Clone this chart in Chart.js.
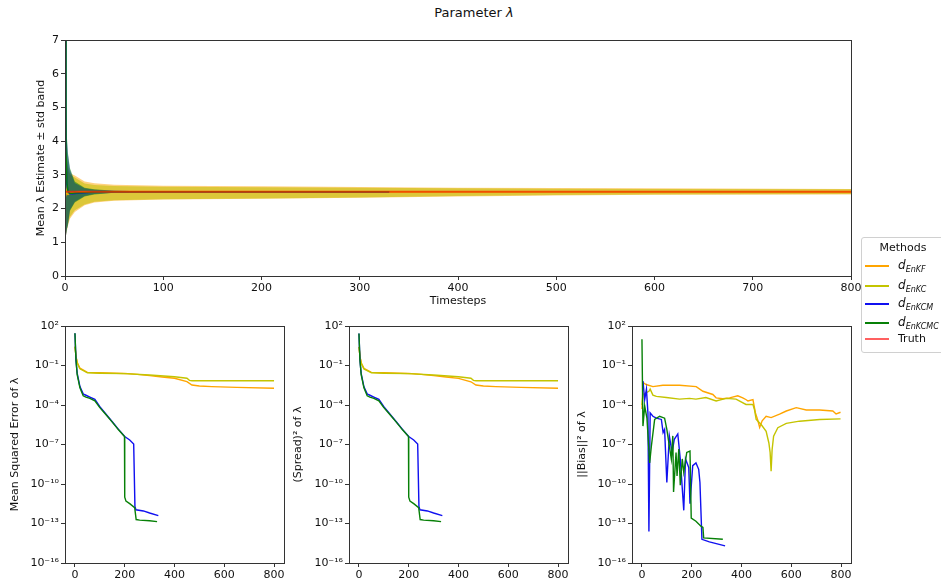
<!DOCTYPE html>
<html>
<head>
<meta charset="utf-8">
<script src="https://cdn.jsdelivr.net/npm/chart.js@4.4.1/dist/chart.umd.min.js"></script>
<style>
  body { margin: 0; width: 941px; height: 583px; background: #fff; position: relative; overflow: hidden;
         font-family: "DejaVu Sans", sans-serif; color: #111; }
  canvas { position: absolute; }
  #title { position: absolute; top: 5px; left: 0; width: 948px; text-align: center; font-size: 13px; }
  #legend { position: absolute; left: 861px; top: 237px; width: 82px; height: 114px;
            border: 1px solid #d0d0d0; border-radius: 3px; background: rgba(255,255,255,0.8); font-size: 11px; }
  #legend .head { position: absolute; top: 2px; left: 0; width: 100%; text-align: center; line-height: 16px; }
  #legend .row { position: absolute; left: 3px; height: 18px; line-height: 18px; white-space: nowrap; }
  #legend .swatch { display: inline-block; width: 24px; height: 1.5px; vertical-align: middle; margin-right: 9px; }
  #legend i.d { font-size: 12px; }
  #legend sub { font-size: 8px; }
</style>
</head>
<body>
<div id="title">Parameter <i>λ</i></div>
<canvas id="estimate" width="870" height="290" style="left:0;top:30px"></canvas>
<canvas id="mse" width="290" height="267" style="left:0;top:316px"></canvas>
<canvas id="spread" width="285" height="267" style="left:290px;top:316px"></canvas>
<canvas id="bias" width="285" height="267" style="left:575px;top:316px"></canvas>
<div id="legend"><div class="head">Methods</div></div>
<script>
// ---- data ----
const methods = ["EnKF", "EnKC", "EnKCM", "EnKCMC"];
const truthLambda = 2.5;
const truthSteps = [0, 800];

// mean estimate and +/- std band, EnKF / EnKC run the full 800 steps
const bandSteps = [0, 1, 2, 3, 5, 10, 20, 30, 50, 100, 200, 300, 400, 500, 600, 800];
const enkfMean  = [2.6, 2.5, 2.45, 2.42, 2.44, 2.47, 2.49, 2.5, 2.5, 2.5, 2.5, 2.5, 2.5, 2.5, 2.5, 2.5];
const enkfUpper = [4.6, 3.9, 3.5, 3.25, 3.05, 2.98, 2.8, 2.75, 2.71, 2.68, 2.66, 2.64, 2.62, 2.61, 2.6, 2.58];
const enkfLower = [1.05, 1.2, 1.35, 1.5, 1.7, 1.9, 2.1, 2.18, 2.23, 2.27, 2.29, 2.32, 2.36, 2.39, 2.41, 2.42];
const enkcMean  = [2.7, 2.55, 2.47, 2.44, 2.45, 2.47, 2.49, 2.5, 2.5, 2.5, 2.5, 2.5, 2.5, 2.5, 2.5, 2.5];
const enkcUpper = [4.4, 3.7, 3.4, 3.15, 3.0, 2.92, 2.74, 2.7, 2.67, 2.65, 2.63, 2.62, 2.6, 2.59, 2.58, 2.57];
const enkcLower = [1.15, 1.25, 1.4, 1.55, 1.75, 1.95, 2.12, 2.2, 2.25, 2.28, 2.3, 2.33, 2.37, 2.4, 2.42, 2.43];

// EnKCM / EnKCMC stop early
const convSteps  = [0, 1, 2, 3, 5, 10, 20, 30, 50, 100, 200, 330];
const enkcmMean  = [7.2, 3.6, 2.7, 2.5, 2.43, 2.45, 2.47, 2.49, 2.5, 2.5, 2.5, 2.5];
const enkcmUpper = [10.0, 5.0, 4.0, 3.6, 3.15, 2.76, 2.6, 2.56, 2.53, 2.51, 2.505, 2.502];
const enkcmLower = [1.0, 1.2, 1.4, 1.55, 1.96, 2.2, 2.37, 2.43, 2.47, 2.49, 2.495, 2.498];
const enkcmcMean  = [7.5, 3.7, 2.75, 2.52, 2.45, 2.46, 2.48, 2.49, 2.5, 2.5, 2.5, 2.5];
const enkcmcUpper = [10.0, 5.1, 4.1, 3.65, 3.2, 2.8, 2.62, 2.57, 2.53, 2.51, 2.505, 2.502];
const enkcmcLower = [1.0, 1.2, 1.4, 1.5, 1.93, 2.18, 2.36, 2.42, 2.47, 2.49, 2.495, 2.498];

// mean squared error
const mseStepsEnKF = [0, 5, 10, 20, 50, 100, 200, 250, 300, 350, 400, 450, 470, 500, 550, 650, 800];
const mseEnKF = [2.7, 4e-1, 1.5e-1, 6.2e-2, 3e-2, 2.8e-2, 2.5e-2, 2.1e-2, 1.7e-2, 1.35e-2, 1.07e-2, 5.9e-3, 3.3e-3, 2.75e-3, 2.5e-3, 2.2e-3, 1.86e-3];
const mseStepsEnKC = [0, 5, 10, 20, 50, 100, 200, 300, 400, 450, 460, 470, 800];
const mseEnKC = [2.7, 4e-1, 1.5e-1, 5.6e-2, 2.8e-2, 2.6e-2, 2.4e-2, 1.9e-2, 1.4e-2, 1.07e-2, 7.4e-3, 7e-3, 7e-3];
const mseStepsEnKCM = [0, 4, 9, 20, 33, 40, 60, 80, 100, 125, 150, 175, 200, 220, 236, 241, 245, 275, 300, 335];
const mseEnKCM = [2.8e1, 2.6e-1, 2.5e-2, 2.5e-3, 7e-4, 6e-4, 4e-4, 2.7e-4, 7.4e-5, 2e-5, 5.4e-6, 1.4e-6, 4e-7, 2.2e-7, 1.1e-7, 2e-12, 1.1e-12, 9e-13, 6.3e-13, 4e-13];
const mseStepsEnKCMC = [0, 4, 9, 20, 33, 44, 60, 80, 100, 125, 150, 175, 199, 200, 205, 220, 240, 246, 260, 300, 330];
const mseEnKCMC = [2.8e1, 2.6e-1, 2e-2, 2e-3, 5e-4, 4e-4, 3.2e-4, 2.1e-4, 6.3e-5, 1.8e-5, 5e-6, 1.3e-6, 4e-7, 1e-11, 5e-12, 3.2e-12, 1.6e-12, 2e-13, 1.8e-13, 1.6e-13, 1.4e-13];

// squared spread
const spreadStepsEnKF = [0, 5, 10, 20, 50, 100, 200, 250, 300, 350, 400, 450, 470, 500, 550, 650, 800];
const spreadEnKF = [2.6, 3.8e-1, 1.4e-1, 6e-2, 3e-2, 2.8e-2, 2.5e-2, 2.1e-2, 1.7e-2, 1.35e-2, 1.05e-2, 5.8e-3, 3.3e-3, 2.75e-3, 2.5e-3, 2.2e-3, 1.85e-3];
const spreadStepsEnKC = [0, 5, 10, 20, 50, 100, 200, 300, 400, 450, 460, 470, 800];
const spreadEnKC = [2.6, 3.8e-1, 1.4e-1, 5.5e-2, 2.8e-2, 2.6e-2, 2.4e-2, 1.9e-2, 1.4e-2, 1.07e-2, 7.4e-3, 7e-3, 7e-3];
const spreadStepsEnKCM = [0, 4, 9, 20, 33, 40, 60, 80, 100, 125, 150, 175, 200, 220, 236, 241, 245, 275, 300, 335];
const spreadEnKCM = [2.7e1, 2.5e-1, 2.4e-2, 2.4e-3, 7e-4, 6e-4, 4e-4, 2.7e-4, 7.4e-5, 2e-5, 5.4e-6, 1.4e-6, 4e-7, 2.2e-7, 1.1e-7, 2e-12, 1.1e-12, 9e-13, 6.3e-13, 4e-13];
const spreadStepsEnKCMC = [0, 4, 9, 20, 33, 44, 60, 80, 100, 125, 150, 175, 199, 200, 205, 220, 240, 246, 260, 300, 330];
const spreadEnKCMC = [2.7e1, 2.5e-1, 2e-2, 2e-3, 5e-4, 4e-4, 3.2e-4, 2.1e-4, 6.3e-5, 1.8e-5, 5e-6, 1.3e-6, 4e-7, 1e-11, 5e-12, 3.2e-12, 1.6e-12, 2e-13, 1.8e-13, 1.6e-13, 1.4e-13];

// squared bias
const biasStepsEnKF = [0, 5, 17, 44, 84, 151, 218, 245, 285, 298, 325, 352, 385, 405, 419, 426, 446, 456, 466, 473, 483, 499, 519, 553, 580, 620, 660, 714, 767, 780, 798];
const biasEnKF = [5e-5, 5e-3, 3.6e-3, 2.5e-3, 3.2e-3, 3.2e-3, 2.5e-3, 1.1e-3, 6.3e-4, 3.5e-4, 3e-4, 3.5e-4, 5e-4, 3.5e-4, 2.5e-4, 2e-4, 2.6e-4, 2.5e-5, 6.3e-6, 2e-6, 6.3e-6, 1.4e-5, 1.1e-5, 2e-5, 3.5e-5, 6.3e-5, 4.2e-5, 4.2e-5, 3.5e-5, 2.1e-5, 2.8e-5];
const biasStepsEnKC = [0, 4, 28, 33, 44, 58, 98, 151, 191, 217, 257, 298, 338, 378, 418, 446, 452, 459, 479, 499, 510, 515, 519, 523, 529, 546, 580, 633, 714, 798];
const biasEnKC = [1e-4, 6.3e-4, 1.1e-3, 1.6e-3, 5.6e-4, 4.5e-4, 3.7e-4, 2.8e-4, 3.2e-4, 2.8e-4, 3.7e-4, 2e-4, 3.2e-4, 2.8e-4, 1.1e-4, 1.1e-4, 4.6e-5, 7.9e-6, 3.3e-6, 1e-6, 1.3e-7, 2.5e-8, 9.3e-10, 4e-8, 4.3e-7, 1.9e-6, 4e-6, 5.9e-6, 7.9e-6, 8.9e-6];
const biasStepsEnKCM = [4, 11, 18, 24, 28, 33, 44, 58, 78, 85, 91, 100, 110, 121, 130, 144, 154, 168, 175, 188, 193, 204, 217, 228, 233, 241, 271, 334];
const biasEnKCM = [6.6e-3, 2.6e-4, 1.6e-3, 2.5e-5, 2.5e-14, 2.5e-5, 1.4e-5, 1e-5, 8e-6, 8e-7, 1.4e-6, 1.3e-10, 4.5e-7, 2.5e-8, 2.5e-7, 6.3e-7, 8e-9, 1e-12, 8e-9, 1.8e-9, 3.2e-12, 2.5e-9, 4e-9, 1.3e-9, 1.3e-10, 6.3e-15, 4e-15, 2e-15];
const biasStepsEnKCMC = [0, 4, 11, 20, 31, 38, 51, 71, 91, 100, 110, 118, 124, 127, 137, 141, 148, 154, 162, 168, 180, 193, 198, 217, 237, 245, 248, 325];
const biasEnKCMC = [1e1, 2.5e-6, 8.3e-5, 1e-5, 4e-9, 8e-8, 8e-6, 1.4e-5, 1e-5, 1.4e-6, 8e-8, 8e-9, 4.5e-7, 2.5e-11, 2.5e-8, 4e-10, 4.5e-8, 8e-11, 8e-9, 8e-10, 2.5e-8, 3.2e-8, 2.6e-13, 1.5e-13, 6.3e-14, 5e-14, 8e-15, 6.3e-15];

const stepTicks = [0, 100, 200, 300, 400, 500, 600, 700, 800];
const panelStepTicks = [0, 200, 400, 600, 800];
const logTicks = [1e2, 1e-1, 1e-4, 1e-7, 1e-10, 1e-13, 1e-16];

// ---- styles ----
const lineColor = { EnKF: "#ffa500", EnKC: "#c4c400", EnKCM: "#1010f0", EnKCMC: "#078007", Truth: "#ff6060" };
const bandColor = { EnKF: "rgba(255,165,0,0.5)", EnKC: "rgba(191,191,0,0.55)", EnKCM: "rgba(0,0,255,0.5)", EnKCMC: "rgba(0,128,0,0.5)" };
const axisInk = "#333";
const font = { family: "'DejaVu Sans', sans-serif", size: 11 };

const pts = (xs, ys) => xs.map((x, i) => ({ x, y: ys[i] }));
const sup = s => String(s).replace(/[-0-9]/g, c => "⁻⁰¹²³⁴⁵⁶⁷⁸⁹"["-0123456789".indexOf(c)]);
const powLabel = v => "10" + sup(Math.round(Math.log10(v)));

// matplotlib-like box around each plot area
const frame = {
  id: "frame",
  afterDraw(chart) {
    const { ctx, chartArea: a } = chart;
    ctx.save();
    ctx.strokeStyle = axisInk;
    ctx.lineWidth = 1;
    ctx.strokeRect(Math.round(a.left) + 0.5, Math.round(a.top) + 0.5,
      Math.round(a.right - a.left), Math.round(a.bottom - a.top));
    ctx.restore();
  }
};

function line(label, xs, ys, color, width) {
  return { label, data: pts(xs, ys), borderColor: color, borderWidth: width, pointRadius: 0, fill: false, tension: 0 };
}
function band(xs, upper, lower, color) {
  return [
    { data: pts(xs, upper), borderWidth: 0, pointRadius: 0, backgroundColor: color, fill: "+1" },
    { data: pts(xs, lower), borderWidth: 0, pointRadius: 0, fill: false }
  ];
}

function axisX(min, max, ticks, extra) {
  return Object.assign({
    type: "linear", min, max,
    afterBuildTicks: s => { s.ticks = ticks.map(value => ({ value })); },
    grid: { drawOnChartArea: false, drawTicks: true, tickLength: 4, color: axisInk },
    border: { display: false },
    ticks: { font, color: "#111", padding: 2, maxRotation: 0 }
  }, extra);
}

Chart.defaults.font.family = font.family;

// top: mean estimate with std bands
new Chart(document.getElementById("estimate"), {
  type: "line",
  data: {
    datasets: [
      line("Truth", truthSteps, [truthLambda, truthLambda], "rgba(255,40,0,0.75)", 2),
      line("EnKCMC", convSteps, enkcmcMean, lineColor.EnKCMC, 1.5),
      line("EnKCM", convSteps, enkcmMean, lineColor.EnKCM, 1.5),
      line("EnKC", bandSteps, enkcMean, lineColor.EnKC, 1.5),
      line("EnKF", bandSteps, enkfMean, lineColor.EnKF, 1.5),
      ...band(convSteps, enkcmcUpper, enkcmcLower, bandColor.EnKCMC),
      ...band(convSteps, enkcmUpper, enkcmLower, bandColor.EnKCM),
      ...band(bandSteps, enkcUpper, enkcLower, bandColor.EnKC),
      ...band(bandSteps, enkfUpper, enkfLower, bandColor.EnKF)
    ]
  },
  options: {
    responsive: false,
    animation: false,
    layout: { padding: { top: 10, right: 19, left: 0, bottom: 0 } },
    plugins: { legend: { display: false }, tooltip: { enabled: false } },
    scales: {
      x: axisX(0, 800, stepTicks, {
        afterFit: s => { s.height = 44; },
        title: { display: true, text: "Timesteps", font, color: "#111", padding: { top: 0, bottom: 12 } }
      }),
      y: {
        min: 0, max: 7,
        afterBuildTicks: s => { s.ticks = [0, 1, 2, 3, 4, 5, 6, 7].map(value => ({ value })); },
        afterFit: s => { s.width = 65; },
        grid: { drawOnChartArea: false, drawTicks: true, tickLength: 4, color: axisInk },
        border: { display: false },
        ticks: { font, color: "#111", padding: 2 },
        title: { display: true, text: "Mean λ Estimate ± std band", font, color: "#111", padding: { top: 35, bottom: 0 } }
      }
    }
  },
  plugins: [frame]
});

// bottom: three log-scale error panels
function errorPanel(id, yTitle, yWidth, titlePad, rightPad, series) {
  new Chart(document.getElementById(id), {
    type: "line",
    data: {
      datasets: [
        line("EnKCMC", series[3][0], series[3][1], lineColor.EnKCMC, 1.4),
        line("EnKCM", series[2][0], series[2][1], lineColor.EnKCM, 1.4),
        line("EnKC", series[1][0], series[1][1], lineColor.EnKC, 1.4),
        line("EnKF", series[0][0], series[0][1], lineColor.EnKF, 1.4)
      ]
    },
    options: {
      responsive: false,
      animation: false,
      layout: { padding: { top: 10, right: rightPad, left: 0, bottom: 0 } },
      plugins: { legend: { display: false }, tooltip: { enabled: false } },
      scales: {
        x: axisX(-40, 840, panelStepTicks, { afterFit: s => { s.height = 20; } }),
        y: {
          type: "logarithmic", min: 1e-16, max: 1e2,
          afterBuildTicks: s => { s.ticks = logTicks.map(value => ({ value })); },
          afterFit: s => { s.width = yWidth; },
          grid: { drawOnChartArea: false, drawTicks: true, tickLength: 4, color: axisInk },
          border: { display: false },
          ticks: { font, color: "#111", padding: 2, callback: v => powLabel(v) },
          title: { display: true, text: yTitle, font, color: "#111", padding: { top: titlePad, bottom: 0 } }
        }
      }
    },
    plugins: [frame]
  });
}

errorPanel("mse", "Mean Squared Error of λ", 65, 9, 6, [
  [mseStepsEnKF, mseEnKF], [mseStepsEnKC, mseEnKC], [mseStepsEnKCM, mseEnKCM], [mseStepsEnKCMC, mseEnKCMC]
]);
errorPanel("spread", "(Spread)² of λ", 59, 2, 7, [
  [spreadStepsEnKF, spreadEnKF], [spreadStepsEnKC, spreadEnKC], [spreadStepsEnKCM, spreadEnKCM], [spreadStepsEnKCMC, spreadEnKCMC]
]);
errorPanel("bias", "||Bias||² of λ", 57, 1, 9, [
  [biasStepsEnKF, biasEnKF], [biasStepsEnKC, biasEnKC], [biasStepsEnKCM, biasEnKCM], [biasStepsEnKCMC, biasEnKCMC]
]);

// shared legend
const legend = document.getElementById("legend");
const rowCenters = [27, 47, 65, 84, 101];
[...methods, "Truth"].forEach((name, i) => {
  const row = document.createElement("div");
  row.className = "row";
  row.style.top = (rowCenters[i] - 9) + "px";
  const label = name === "Truth" ? "Truth" : '<i class="d">d</i><sub><i>' + name + "</i></sub>";
  row.innerHTML = '<span class="swatch" style="background:' + lineColor[name] + '"></span>' + label;
  legend.appendChild(row);
});
</script>
</body>
</html>
